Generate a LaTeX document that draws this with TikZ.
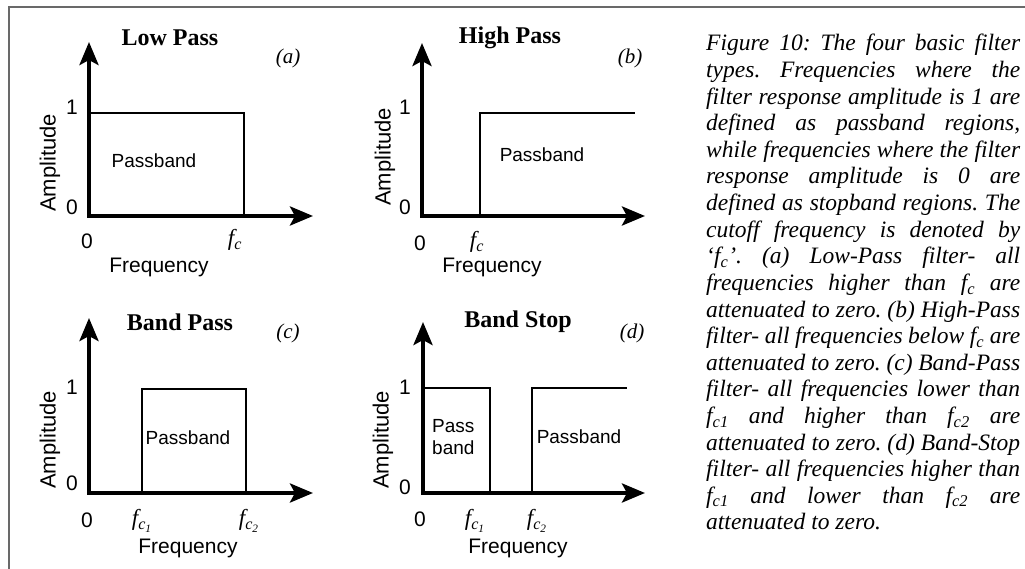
\documentclass[tikz,border=0pt]{standalone}
\usepackage{fontspec}
\setmainfont{Liberation Serif}
\newfontfamily\arialf{Liberation Sans}
\usetikzlibrary{arrows.meta}
\definecolor{framegray}{RGB}{105,105,105}
\newcommand\fsub[1]{f\textsubscript{#1}}
\frenchspacing
\tikzset{
 axis/.style={line width=4pt, line join=miter, {Stealth[length=23pt,width=19pt,inset=5pt]}-{Stealth[length=23pt,width=19pt,inset=5pt]}},
 resp/.style={line width=2pt, line join=miter},
 sanslbl/.style={font=\arialf\fontsize{21}{25}\selectfont, inner sep=0pt},
 amplbl/.style={font=\arialf\fontsize{22}{26}\selectfont, inner sep=0pt, rotate=90},
 pblbl/.style={font=\arialf\fontsize{19}{22}\selectfont, inner sep=0pt},
 ttl/.style={font=\bfseries\fontsize{24}{28}\selectfont, inner sep=0pt},
 tag/.style={font=\itshape\fontsize{21}{24}\selectfont, inner sep=0pt},
 fclbl/.style={font=\itshape\fontsize{23}{26}\selectfont, inner sep=0pt},
 capline/.style={anchor=base west, inner sep=0pt, font=\itshape\fontsize{23.5}{27}\selectfont},
}
\newcommand\jl[1]{\makebox[314pt][s]{#1}}
\begin{document}
\begin{tikzpicture}[x=1pt,y=-1pt]
\useasboundingbox (0,0) rectangle (1025,569);
% frame
\coordinate (fbl) at (9,569);
\coordinate (ftl) at (9,7);
\coordinate (ftr) at (1025,7);
\draw[framegray, line width=2pt] (fbl) -- (ftl) -- (ftr);

% ---------- (a) Low Pass ----------
\coordinate (aO) at (89,216);
\coordinate (aY) at (89,42);
\coordinate (aX) at (313,216);
\coordinate (a1) at (89,113);
\coordinate (a2) at (244,113);
\coordinate (a3) at (244,216);
\draw[resp] (a1) -- (a2) -- (a3);
\draw[axis] (aY) -- (aO) -- (aX);
\node[sanslbl] (aone) at (72,107) {1};
\node[sanslbl] (azero) at (72,207) {0};
\node[pblbl] (apb) at (154,161) {Passband};
\node[amplbl] (aamp) at (50,163) {Amplitude};
\node[sanslbl] (ax0) at (87,241) {0};
\node[fclbl] (afc) at (235,240) {\fsub{c}};
\node[sanslbl] (afreq) at (159,267) {Frequency};
\node[ttl] (attl) at (170,38) {Low Pass};
\node[tag] (atag) at (288,58) {(a)};

% ---------- (b) High Pass ----------
\coordinate (bO) at (422,216);
\coordinate (bY) at (422,43);
\coordinate (bX) at (645,216);
\coordinate (b1) at (480,216);
\coordinate (b2) at (480,113);
\coordinate (b3) at (635,113);
\draw[resp] (b1) -- (b2) -- (b3);
\draw[axis] (bY) -- (bO) -- (bX);
\node[sanslbl] (bone) at (405,107) {1};
\node[sanslbl] (bzero) at (405,207) {0};
\node[pblbl] (bpb) at (542,155) {Passband};
\node[amplbl] (bamp) at (385,157) {Amplitude};
\node[sanslbl] (bx0) at (420,243) {0};
\node[fclbl] (bfc) at (477,242) {\fsub{c}};
\node[sanslbl] (bfreq) at (492,267) {Frequency};
\node[ttl] (bttl) at (510,38) {High Pass};
\node[tag] (btag) at (630,58) {(b)};

% ---------- (c) Band Pass ----------
\coordinate (cO) at (89,493);
\coordinate (cY) at (89,318);
\coordinate (cX) at (313,493);
\coordinate (c1) at (142,493);
\coordinate (c2) at (142,389);
\coordinate (c3) at (246,389);
\coordinate (c4) at (246,493);
\draw[resp] (c1) -- (c2) -- (c3) -- (c4);
\draw[axis] (cY) -- (cO) -- (cX);
\node[sanslbl] (cone) at (72,387) {1};
\node[sanslbl] (czero) at (72,483) {0};
\node[pblbl] (cpb) at (188,438) {Passband};
\node[amplbl] (camp) at (50,440) {Amplitude};
\node[sanslbl] (cx0) at (87,520) {0};
\node[fclbl] (cfc1) at (142,521) {\fsub{c\textsubscript{1}}};
\node[fclbl] (cfc2) at (249,521) {\fsub{c\textsubscript{2}}};
\node[sanslbl] (cfreq) at (188,548) {Frequency};
\node[ttl] (cttl) at (180,322) {Band Pass};
\node[tag] (ctag) at (288,333) {(c)};

% ---------- (d) Band Stop ----------
\coordinate (dO) at (423,493);
\coordinate (dY) at (423,322);
\coordinate (dX) at (645,493);
\coordinate (d1) at (423,388);
\coordinate (d2) at (490,388);
\coordinate (d3) at (490,493);
\coordinate (d4) at (532,493);
\coordinate (d5) at (532,388);
\coordinate (d6) at (627,388);
\draw[resp] (d1) -- (d2) -- (d3);
\draw[resp] (d4) -- (d5) -- (d6);
\draw[axis] (dY) -- (dO) -- (dX);
\node[sanslbl] (done) at (405,387) {1};
\node[sanslbl] (dzero) at (405,487) {0};
\node[pblbl, align=left, anchor=west] (dpb1) at (432,437) {Pass\\band};
\node[pblbl] (dpb2) at (579,437) {Passband};
\node[amplbl] (damp) at (383,440) {Amplitude};
\node[sanslbl] (dx0) at (420,519) {0};
\node[fclbl] (dfc1) at (475,521) {\fsub{c\textsubscript{1}}};
\node[fclbl] (dfc2) at (537,521) {\fsub{c\textsubscript{2}}};
\node[sanslbl] (dfreq) at (518,548) {Frequency};
\node[ttl] (dttl) at (518,322) {Band Stop};
\node[tag] (dtag) at (632,333) {(d)};

% ---------- caption ----------
\node[capline] (cap1) at (706,51) {\jl{Figure 10: The four basic filter}};
\node[capline] (cap2) at (706,77.6) {\jl{types. Frequencies where the}};
\node[capline] (cap3) at (706,104.2) {\jl{filter response amplitude is 1 are}};
\node[capline] (cap4) at (706,130.8) {\jl{defined as passband regions,}};
\node[capline] (cap5) at (706,157.4) {\jl{while frequencies where the filter}};
\node[capline] (cap6) at (706,184) {\jl{response amplitude is 0 are}};
\node[capline] (cap7) at (706,210.6) {\jl{defined as stopband regions. The}};
\node[capline] (cap8) at (706,237.2) {\jl{cutoff frequency is denoted by}};
\node[capline] (cap9) at (706,263.8) {\jl{‘\fsub{c}’. (a) Low-Pass filter- all}};
\node[capline] (cap10) at (706,290.4) {\jl{frequencies higher than \fsub{c} are}};
\node[capline] (cap11) at (706,317) {\jl{attenuated to zero. (b) High-Pass}};
\node[capline] (cap12) at (706,343.6) {\jl{filter- all frequencies below \fsub{c} are}};
\node[capline] (cap13) at (706,370.2) {\jl{attenuated to zero. (c) Band-Pass}};
\node[capline] (cap14) at (706,396.8) {\jl{filter- all frequencies lower than}};
\node[capline] (cap15) at (706,423.4) {\jl{\fsub{c1} and higher than \fsub{c2} are}};
\node[capline] (cap16) at (706,450) {\jl{attenuated to zero. (d) Band-Stop}};
\node[capline] (cap17) at (706,476.6) {\jl{filter- all frequencies higher than}};
\node[capline] (cap18) at (706,503.2) {\jl{\fsub{c1} and lower than \fsub{c2} are}};
\node[capline] (cap19) at (706,529.8) {attenuated to zero.};
\end{tikzpicture}
\end{document}
